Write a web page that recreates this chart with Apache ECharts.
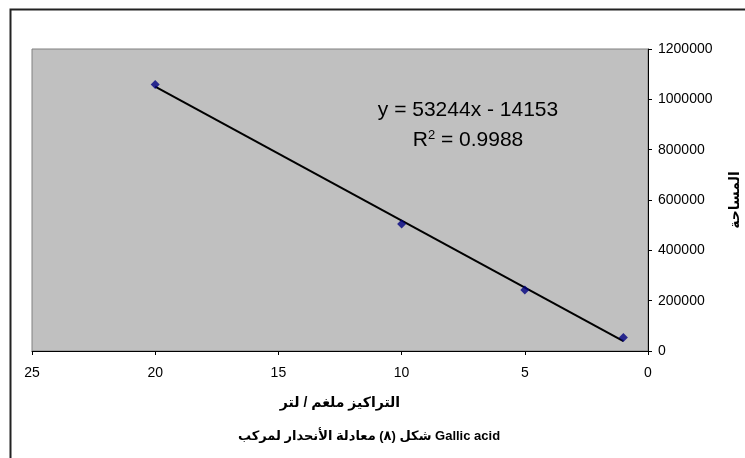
<!DOCTYPE html>
<html>
<head>
<meta charset="utf-8">
<script src="https://cdn.jsdelivr.net/npm/echarts@6/dist/echarts.min.js"></script>
<style>html,body{margin:0;padding:0;background:#fff;}#c{width:745px;height:458px;}</style>
</head>
<body>
<div id="c"></div>
<script>
// Data
var concentrations = [20, 10, 5, 1];
var areas = [1059000, 505000, 242400, 53700];
var trendX = [20, 1];
var trendY = [1050727, 39091];
var xTicks = [0, 5, 10, 15, 20, 25];
var yTicks = [0, 200000, 400000, 600000, 800000, 1000000, 1200000];
var equationText = 'y = 53244x - 14153';
var r2Value = '0.9988';
var xName = 'التراكيز ملغم / لتر';
var yName = 'المساحة';
var chartTitle = 'شكل (٨) معادلة الأنحدار لمركب Gallic acid';

var FONT = '"Liberation Sans", Arial, "DejaVu Sans", sans-serif';
var chart = echarts.init(document.getElementById('c'), null, {renderer: 'canvas'});
var pts = concentrations.map(function (x, i) { return [x, areas[i]]; });
var trend = trendX.map(function (x, i) { return [x, trendY[i]]; });

chart.setOption({
  animation: false,
  backgroundColor: '#ffffff',
  grid: {
    left: 32, right: 97, top: 49, bottom: 107,
    containLabel: false, outerBoundsMode: 'none',
    show: true, backgroundColor: '#C0C0C0', borderColor: '#808080', borderWidth: 1
  },
  xAxis: {
    type: 'value', inverse: true,
    min: xTicks[0], max: xTicks[xTicks.length - 1], interval: xTicks[1] - xTicks[0],
    axisLine: {show: true, onZero: false, lineStyle: {color: '#000', width: 1}},
    axisTick: {show: true, inside: false, length: 4, lineStyle: {color: '#000'}},
    axisLabel: {color: '#000', fontSize: 14, fontFamily: FONT, margin: 15},
    splitLine: {show: false},
    name: xName, nameLocation: 'middle', nameGap: 45,
    nameTextStyle: {color: '#000', fontSize: 14, fontWeight: 'bold', fontFamily: FONT}
  },
  yAxis: {
    type: 'value', position: 'right',
    min: yTicks[0], max: yTicks[yTicks.length - 1], interval: yTicks[1] - yTicks[0],
    axisLine: {show: true, onZero: false, lineStyle: {color: '#000', width: 1}},
    axisTick: {show: true, inside: false, length: 4, lineStyle: {color: '#000'}},
    axisLabel: {color: '#000', fontSize: 14, fontFamily: FONT, margin: 10,
      formatter: function (v) { return String(v); }},
    splitLine: {show: false},
    name: yName, nameLocation: 'middle', nameGap: 80, nameRotate: 90,
    nameTextStyle: {color: '#000', fontSize: 14, fontWeight: 'bold', fontFamily: FONT}
  },
  series: [
    {
      type: 'line', data: trend, symbol: 'none', z: 2,
      lineStyle: {color: '#000', width: 2}
    },
    {
      type: 'scatter', data: pts, symbol: 'diamond', symbolSize: 9, z: 3,
      itemStyle: {color: '#000080'}
    }
  ],
  graphic: [
    {
      type: 'rect', left: 8, top: 7, silent: true, z: 100,
      shape: {width: 760, height: 470},
      style: {fill: 'none', stroke: '#222', lineWidth: 2}
    },
    {
      type: 'text', x: 468, y: 110, z: 100,
      style: {text: equationText, fill: '#000', font: '21px ' + FONT, align: 'center', verticalAlign: 'middle'}
    },
    {
      type: 'text', x: 468, y: 140, z: 100,
      style: {
        text: '{a|R}{s|2}{a| = ' + r2Value + '}',
        align: 'center', verticalAlign: 'middle',
        rich: {
          a: {fill: '#000', fontSize: 21, fontFamily: FONT, verticalAlign: 'bottom', lineHeight: 22},
          s: {fill: '#000', fontSize: 13, fontFamily: FONT, verticalAlign: 'top', lineHeight: 22, padding: [0, 0, 8, 0]}
        }
      }
    },
    {
      type: 'text', x: 369, y: 436, z: 100,
      style: {text: chartTitle, fill: '#000', font: 'bold 13px ' + FONT, align: 'center', verticalAlign: 'middle'}
    }
  ]
});
</script>
</body>
</html>
